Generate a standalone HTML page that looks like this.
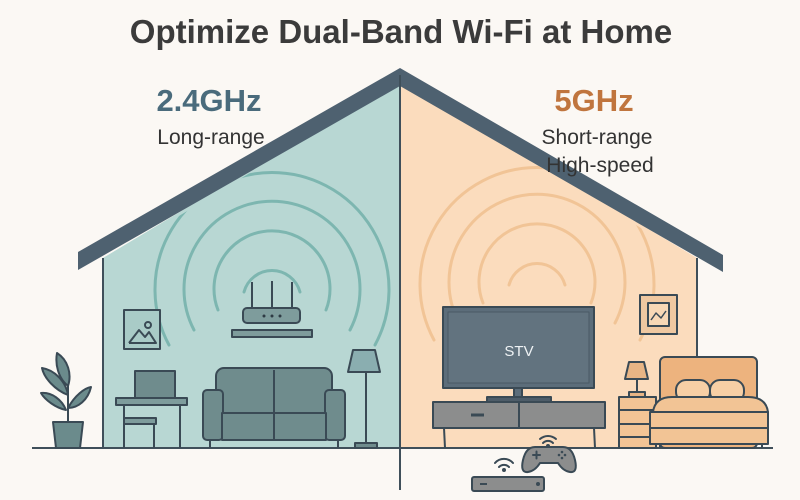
<!DOCTYPE html>
<html><head><meta charset="utf-8"><style>
html,body{margin:0;padding:0;background:#fbf8f4;}
svg{display:block;font-family:"Liberation Sans",sans-serif;}
</style></head><body>
<svg width="800" height="500" viewBox="0 0 800 500" xmlns="http://www.w3.org/2000/svg">
<rect width="800" height="500" fill="#fbf8f4"/>
<defs>
<clipPath id="cl"><polygon points="103,262 400,82 400,448 103,448"/></clipPath>
<clipPath id="cr"><polygon points="400,82 697,262 697,448 400,448"/></clipPath>
</defs>
<polygon points="103,258 400,80 400,448 103,448" fill="#b8d7d3"/>
<polygon points="400,80 697,258 697,448 400,448" fill="#fbdcbd"/>
<line x1="103" y1="258" x2="103" y2="448" stroke="#3f4f5a" stroke-width="2"/>
<line x1="697" y1="258" x2="697" y2="448" stroke="#3f4f5a" stroke-width="2"/>
<g clip-path="url(#cl)" fill="none" stroke="#7db6b0" stroke-width="3" stroke-linecap="round">
<path d="M244,292 A29,29 0 0 1 300,292"/>
<path d="M218,310 A58,58 0 1 1 326,310"/>
<path d="M194,330 A88,88 0 1 1 350,330"/>
<path d="M169,345 A117,117 0 1 1 375,345"/>
</g>
<g clip-path="url(#cr)" fill="none" stroke="#f1c496" stroke-width="3" stroke-linecap="round">
<path d="M509,285 A29,29 0 0 1 565,285"/>
<path d="M483,303 A58,58 0 1 1 591,303"/>
<path d="M459,323 A88,88 0 1 1 615,323"/>
<path d="M434,340 A117,117 0 1 1 640,340"/>
</g>
<polygon points="78,252 400,68 723,255 723,272 400,86 78,270" fill="#4e6170"/>
<line x1="400" y1="75" x2="400" y2="490" stroke="#3f4f5a" stroke-width="2"/>
<line x1="32" y1="448" x2="773" y2="448" stroke="#3f4f5a" stroke-width="2"/>
<text x="401" y="43" text-anchor="middle" font-size="33" font-weight="bold" fill="#3b3b3b">Optimize Dual-Band Wi-Fi at Home</text>
<text x="209" y="111" text-anchor="middle" font-size="31" font-weight="bold" fill="#4a6b7c">2.4GHz</text>
<text x="211" y="144" text-anchor="middle" font-size="21" fill="#333">Long-range</text>
<text x="594" y="111" text-anchor="middle" font-size="31" font-weight="bold" fill="#c0753e">5GHz</text>
<text x="597" y="144" text-anchor="middle" font-size="21" fill="#333">Short-range</text>
<text x="600" y="172" text-anchor="middle" font-size="21" fill="#333">High-speed</text>
<g stroke="#3a4a55" stroke-width="2" stroke-linejoin="round">
<line x1="252" y1="282" x2="252" y2="310"/>
<line x1="272" y1="281" x2="272" y2="310"/>
<line x1="292" y1="282" x2="292" y2="310"/>
<rect x="243" y="308" width="57" height="15" rx="4" fill="#7e9c9c"/>
<rect x="232" y="330" width="80" height="7" fill="#7e9c9c"/>
<rect x="124" y="310" width="36" height="39" fill="#a9cbc7"/>
<polyline points="129,343 139,330 145,337 149,332 156,343 129,343" fill="none"/>
<circle cx="148" cy="325" r="3" fill="none"/>
<path d="M53,422 L83,422 L80,448 L56,448 Z" fill="#6b8b8c"/>
<line x1="68" y1="422" x2="68" y2="385"/>
<path d="M68,395 C55,390 44,378 42,368 C55,370 66,382 68,395Z" fill="#6b8b8c"/>
<path d="M68,408 C75,395 85,388 91,387 C88,400 78,408 68,408Z" fill="#6b8b8c"/>
<path d="M68,386 C58,378 55,364 57,353 C68,360 72,374 68,386Z" fill="#6b8b8c"/>
<path d="M66,410 C56,408 45,400 41,393 C52,392 62,400 66,410Z" fill="#6b8b8c"/>
<rect x="135" y="371" width="40" height="27" fill="#6f8c8d"/>
<rect x="116" y="398" width="71" height="7" fill="#7e9c9c"/>
<line x1="124" y1="405" x2="124" y2="448"/>
<line x1="180" y1="405" x2="180" y2="448"/>
<rect x="124" y="418" width="32" height="6" fill="#7e9c9c"/>
<line x1="154" y1="424" x2="154" y2="448"/>
<rect x="216" y="368" width="116" height="55" rx="8" fill="#6f8c8d"/>
<line x1="274" y1="370" x2="274" y2="420"/>
<rect x="203" y="390" width="20" height="50" rx="4" fill="#6f8c8d"/>
<rect x="325" y="390" width="20" height="50" rx="4" fill="#6f8c8d"/>
<rect x="222" y="413" width="104" height="27" fill="#6f8c8d"/>
<line x1="274" y1="413" x2="274" y2="440"/>
<line x1="210" y1="440" x2="210" y2="448"/>
<line x1="338" y1="440" x2="338" y2="448"/>
<path d="M353,350 L375,350 L380,372 L348,372 Z" fill="#8aaeb0"/>
<line x1="366" y1="372" x2="366" y2="444"/>
<rect x="355" y="443" width="22" height="5" fill="#6f8c8d"/>
</g>
<g stroke="#3a4a55" stroke-width="2" stroke-linejoin="round">
<rect x="443" y="307" width="151" height="81" fill="#5c6d7a"/>
<rect x="448" y="312" width="141" height="71" fill="#62737f" stroke="#4a5964" stroke-width="1"/>
<rect x="514" y="388" width="8" height="10" fill="#5c6d7a"/>
<rect x="487" y="397" width="64" height="6" fill="#4e5d69"/>
<rect x="433" y="402" width="172" height="26" fill="#8c8d8d"/>
<line x1="519" y1="402" x2="519" y2="428"/>
<line x1="471" y1="415" x2="484" y2="415" stroke-width="3"/>
<line x1="444" y1="428" x2="445" y2="448"/>
<line x1="594" y1="428" x2="595" y2="448"/>
<rect x="640" y="295" width="37" height="39" fill="#efc8a1"/>
<rect x="648" y="303" width="21" height="23" fill="#f7d8b6"/>
<polyline points="651,320 656,313 661,318 666,311" fill="none" stroke-width="1.5"/>
<path d="M629,362 L644,362 L648,379 L625,379 Z" fill="#e8b585"/>
<line x1="637" y1="379" x2="637" y2="393"/>
<rect x="629" y="392" width="16" height="5" fill="#e8b585"/>
<rect x="619" y="397" width="37" height="51" fill="#f2c495"/>
<line x1="619" y1="410" x2="656" y2="410"/>
<line x1="619" y1="424" x2="656" y2="424"/>
<line x1="619" y1="437" x2="656" y2="437"/>
<rect x="660" y="357" width="97" height="91" rx="5" fill="#edb37e"/>
<rect x="676" y="380" width="34" height="22" rx="10" fill="#f7cfa5"/>
<rect x="710" y="380" width="34" height="22" rx="10" fill="#f7cfa5"/>
<path d="M653,412 Q655,397 672,397 L748,397 Q766,397 768,412 Z" fill="#f2c495"/>
<rect x="650" y="412" width="118" height="32" fill="#f2c495"/>
<line x1="650" y1="428" x2="768" y2="428"/>
<line x1="660" y1="444" x2="660" y2="448"/>
<line x1="762" y1="444" x2="762" y2="448"/>
<path d="M535,447 L563,447 Q572,447 575,460 Q578,473 570,472 Q563,471 558,463 L540,463 Q535,471 528,472 Q520,473 523,460 Q526,447 535,447Z" fill="#8c8d8d"/>
<rect x="472" y="477" width="72" height="14" rx="2" fill="#8c8d8d"/>
<line x1="480" y1="484" x2="487" y2="484"/>
</g>
<g stroke="#3a4a55" stroke-width="2" fill="none" stroke-linecap="round">
<path d="M533,455 h7 M536.5,451.5 v7"/>
<path d="M540,439 A12,12 0 0 1 556,439 M543,443 A7,7 0 0 1 553,443"/>
<path d="M495,463 A12,12 0 0 1 513,463 M499,467 A7,7 0 0 1 509,467"/>
</g>
<circle cx="548" cy="446" r="2" fill="#3a4a55"/>
<circle cx="504" cy="470" r="2" fill="#3a4a55"/>
<circle cx="538" cy="484" r="2" fill="#3a4a55"/>
<circle cx="562" cy="452" r="1.3" fill="#3a4a55"/><circle cx="562" cy="458" r="1.3" fill="#3a4a55"/>
<circle cx="559" cy="455" r="1.3" fill="#3a4a55"/><circle cx="565" cy="455" r="1.3" fill="#3a4a55"/>
<circle cx="264" cy="316" r="1.5" fill="#2e3b44"/><circle cx="272" cy="316" r="1.5" fill="#2e3b44"/><circle cx="280" cy="316" r="1.5" fill="#2e3b44"/>
<text x="519" y="356" text-anchor="middle" font-size="15" fill="#eef2f4">STV</text>
</svg>
</body></html>
